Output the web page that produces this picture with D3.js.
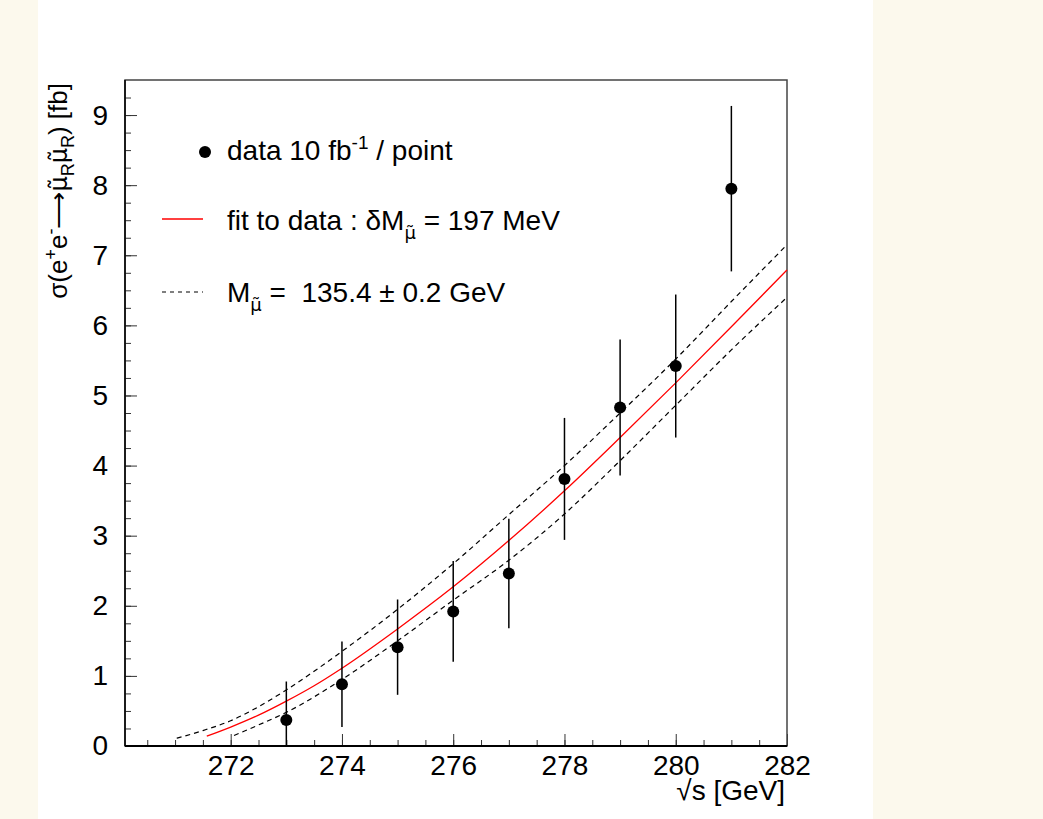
<!DOCTYPE html>
<html>
<head>
<meta charset="utf-8">
<script src="https://cdn.jsdelivr.net/npm/d3@7"></script>
<style>
  body { margin: 0; background: #fcf9ed; }
  text { font-family: "Liberation Sans", Arial, Helvetica, sans-serif; fill: #000; white-space: pre; }
  .mu { font-family: "DejaVu Sans", sans-serif; }
</style>
</head>
<body>
<div id="chart"></div>
<script>
// measured points (sqrt(s) in GeV, cross section in fb)
const energies = [273, 274, 275, 276, 277, 278, 279, 280, 281];
const sigma = [0.37, 0.88, 1.41, 1.92, 2.46, 3.81, 4.83, 5.42, 7.95];
const sigmaErr = [0.55, 0.61, 0.68, 0.72, 0.78, 0.87, 0.97, 1.02, 1.18];

// fit curve (red)
const fitX = [271.57, 272, 272.5, 273, 273.5, 274, 275, 276, 277, 278, 279, 280, 281, 282];
const fitY = [0.14, 0.27, 0.44, 0.64, 0.86, 1.11, 1.67, 2.27, 2.93, 3.64, 4.40, 5.18, 5.98, 6.79];

// mass -0.2 GeV (upper dashed)
const upX = [271.03, 271.5, 272, 272.5, 273, 274, 275, 276, 277, 278, 279, 280, 281, 282];
const upY = [0.11, 0.22, 0.36, 0.56, 0.80, 1.35, 1.95, 2.60, 3.30, 4.00, 4.75, 5.52, 6.34, 7.15];

// mass +0.2 GeV (lower dashed)
const lowX = [272.06, 272.5, 273, 274, 275, 276, 277, 278, 279, 280, 281, 282];
const lowY = [0.15, 0.30, 0.48, 0.95, 1.50, 2.08, 2.65, 3.31, 4.07, 4.86, 5.65, 6.40];

const xTicks = [272, 274, 276, 278, 280, 282];
const yTicks = [0, 1, 2, 3, 4, 5, 6, 7, 8, 9];

const width = 1043, height = 819;
const plotL = 125, plotR = 787, plotT = 80, plotB = 746;
const fs = 28, fsSmall = 19;

const svg = d3.select("#chart").append("svg")
  .attr("width", width)
  .attr("height", height);

// pad background
svg.append("rect").attr("width", width).attr("height", height).attr("fill", "#fcf9ed");
svg.append("rect").attr("x", 38).attr("width", 835).attr("height", height).attr("fill", "#ffffff");

const x = d3.scaleLinear().domain([270.1, 282]).range([plotL, plotR]);
const y = d3.scaleLinear().domain([0, 9.5]).range([plotB, plotT]);

// minor ticks
svg.append("g")
  .attr("transform", "translate(0," + plotB + ")")
  .call(d3.axisBottom(x).tickValues(d3.range(270.5, 282.01, 0.5)).tickSizeInner(-6).tickSizeOuter(0).tickFormat(""))
  .call(g => g.select(".domain").remove())
  .selectAll("line").attr("stroke", "#333");
svg.append("g")
  .attr("transform", "translate(" + plotL + ",0)")
  .call(d3.axisLeft(y).tickValues(d3.range(0.25, 9.5, 0.25)).tickSizeInner(-6).tickSizeOuter(0).tickFormat(""))
  .call(g => g.select(".domain").remove())
  .selectAll("line").attr("stroke", "#333");

// major ticks + labels
const xAxis = svg.append("g")
  .attr("transform", "translate(0," + plotB + ")")
  .call(d3.axisBottom(x).tickValues(xTicks).tickSizeInner(-12).tickSizeOuter(0).tickPadding(9).tickFormat(d3.format("d")));
xAxis.select(".domain").remove();
xAxis.selectAll("line").attr("stroke", "#333");
xAxis.selectAll("text").style("font-size", fs + "px");

const yAxis = svg.append("g")
  .attr("transform", "translate(" + plotL + ",0)")
  .call(d3.axisLeft(y).tickValues(yTicks).tickSizeInner(-12).tickSizeOuter(0).tickPadding(17).tickFormat(d3.format("d")));
yAxis.select(".domain").remove();
yAxis.selectAll("line").attr("stroke", "#333");
yAxis.selectAll("text").style("font-size", fs + "px");

// frame
svg.append("rect")
  .attr("x", plotL).attr("y", plotT)
  .attr("width", plotR - plotL).attr("height", plotB - plotT)
  .attr("fill", "none").attr("stroke", "#444").attr("stroke-width", 1.5);
svg.append("line")
  .attr("x1", plotL).attr("x2", plotR).attr("y1", plotB).attr("y2", plotB)
  .attr("stroke", "#000").attr("stroke-width", 2);
svg.append("line")
  .attr("x1", plotL).attr("x2", plotL).attr("y1", plotT).attr("y2", plotB)
  .attr("stroke", "#000").attr("stroke-width", 1.5);

// curves
const line = d3.line().x(d => x(d[0])).y(d => y(d[1])).curve(d3.curveMonotoneX);

svg.append("path")
  .attr("d", line(d3.zip(upX, upY)))
  .attr("fill", "none").attr("stroke", "#000").attr("stroke-width", 1.2)
  .attr("stroke-dasharray", "5,4");
svg.append("path")
  .attr("d", line(d3.zip(lowX, lowY)))
  .attr("fill", "none").attr("stroke", "#000").attr("stroke-width", 1.2)
  .attr("stroke-dasharray", "5,4");
svg.append("path")
  .attr("d", line(d3.zip(fitX, fitY)))
  .attr("fill", "none").attr("stroke", "#ff0000").attr("stroke-width", 1.3);

// data points with error bars
const pts = svg.append("g").selectAll("g")
  .data(energies.map((e, i) => ({ e: e, s: sigma[i], err: sigmaErr[i] })))
  .enter().append("g");

pts.append("line")
  .attr("x1", d => x(d.e)).attr("x2", d => x(d.e))
  .attr("y1", d => y(Math.max(0, d.s - d.err)))
  .attr("y2", d => y(d.s + d.err))
  .attr("stroke", "#000").attr("stroke-width", 1.5);

pts.append("circle")
  .attr("cx", d => x(d.e)).attr("cy", d => y(d.s))
  .attr("r", 6).attr("fill", "#000");

// legend
const leg = svg.append("g");
leg.append("circle").attr("cx", 205).attr("cy", 152).attr("r", 6).attr("fill", "#000");
const t1 = leg.append("text").attr("x", 227).attr("y", 160).style("font-size", fs + "px");
t1.append("tspan").text("data 10 fb");
t1.append("tspan").attr("dy", -11).style("font-size", fsSmall + "px").text("-1");
t1.append("tspan").attr("dy", 11).text(" / point");

leg.append("line").attr("x1", 162).attr("x2", 203).attr("y1", 219).attr("y2", 219)
  .attr("stroke", "#ff0000").attr("stroke-width", 1.3);
const t2 = leg.append("text").attr("x", 227).attr("y", 230).style("font-size", fs + "px");
t2.append("tspan").text("fit to data : δM");
t2.append("tspan").attr("class", "mu").attr("dy", 9).style("font-size", "18px").text("μ\u0303");
t2.append("tspan").attr("dy", -9).text(" = 197 MeV");

leg.append("line").attr("x1", 162).attr("x2", 203).attr("y1", 292).attr("y2", 292)
  .attr("stroke", "#000").attr("stroke-width", 1.2).attr("stroke-dasharray", "4,4");
const t3 = leg.append("text").attr("x", 227).attr("y", 302).style("font-size", fs + "px");
t3.append("tspan").text("M");
t3.append("tspan").attr("class", "mu").attr("dy", 9).style("font-size", "18px").text("μ\u0303");
t3.append("tspan").attr("dy", -9).text(" =  135.4 ± 0.2 GeV");

// axis titles
svg.append("text")
  .attr("x", 785).attr("y", 800)
  .attr("text-anchor", "end")
  .style("font-size", fs + "px")
  .text("√s [GeV]");

const yt = svg.append("text")
  .attr("transform", "translate(67,83) rotate(-90)")
  .attr("text-anchor", "end")
  .style("font-size", "26px");
yt.append("tspan").text("σ(e");
yt.append("tspan").attr("dy", -10).style("font-size", "18px").text("+");
yt.append("tspan").attr("dy", 10).text("e");
yt.append("tspan").attr("dy", -10).style("font-size", "18px").text("-");
yt.append("tspan").attr("dy", 10).text("⟶");
yt.append("tspan").attr("class", "mu").style("font-size", "24px").text("μ\u0303");
yt.append("tspan").attr("dy", 7).style("font-size", "18px").text("R");
yt.append("tspan").attr("class", "mu").attr("dy", -7).style("font-size", "24px").text("μ\u0303");
yt.append("tspan").attr("dy", 7).style("font-size", "18px").text("R");
yt.append("tspan").attr("dy", -7).text(") [fb]");
</script>
</body>
</html>
